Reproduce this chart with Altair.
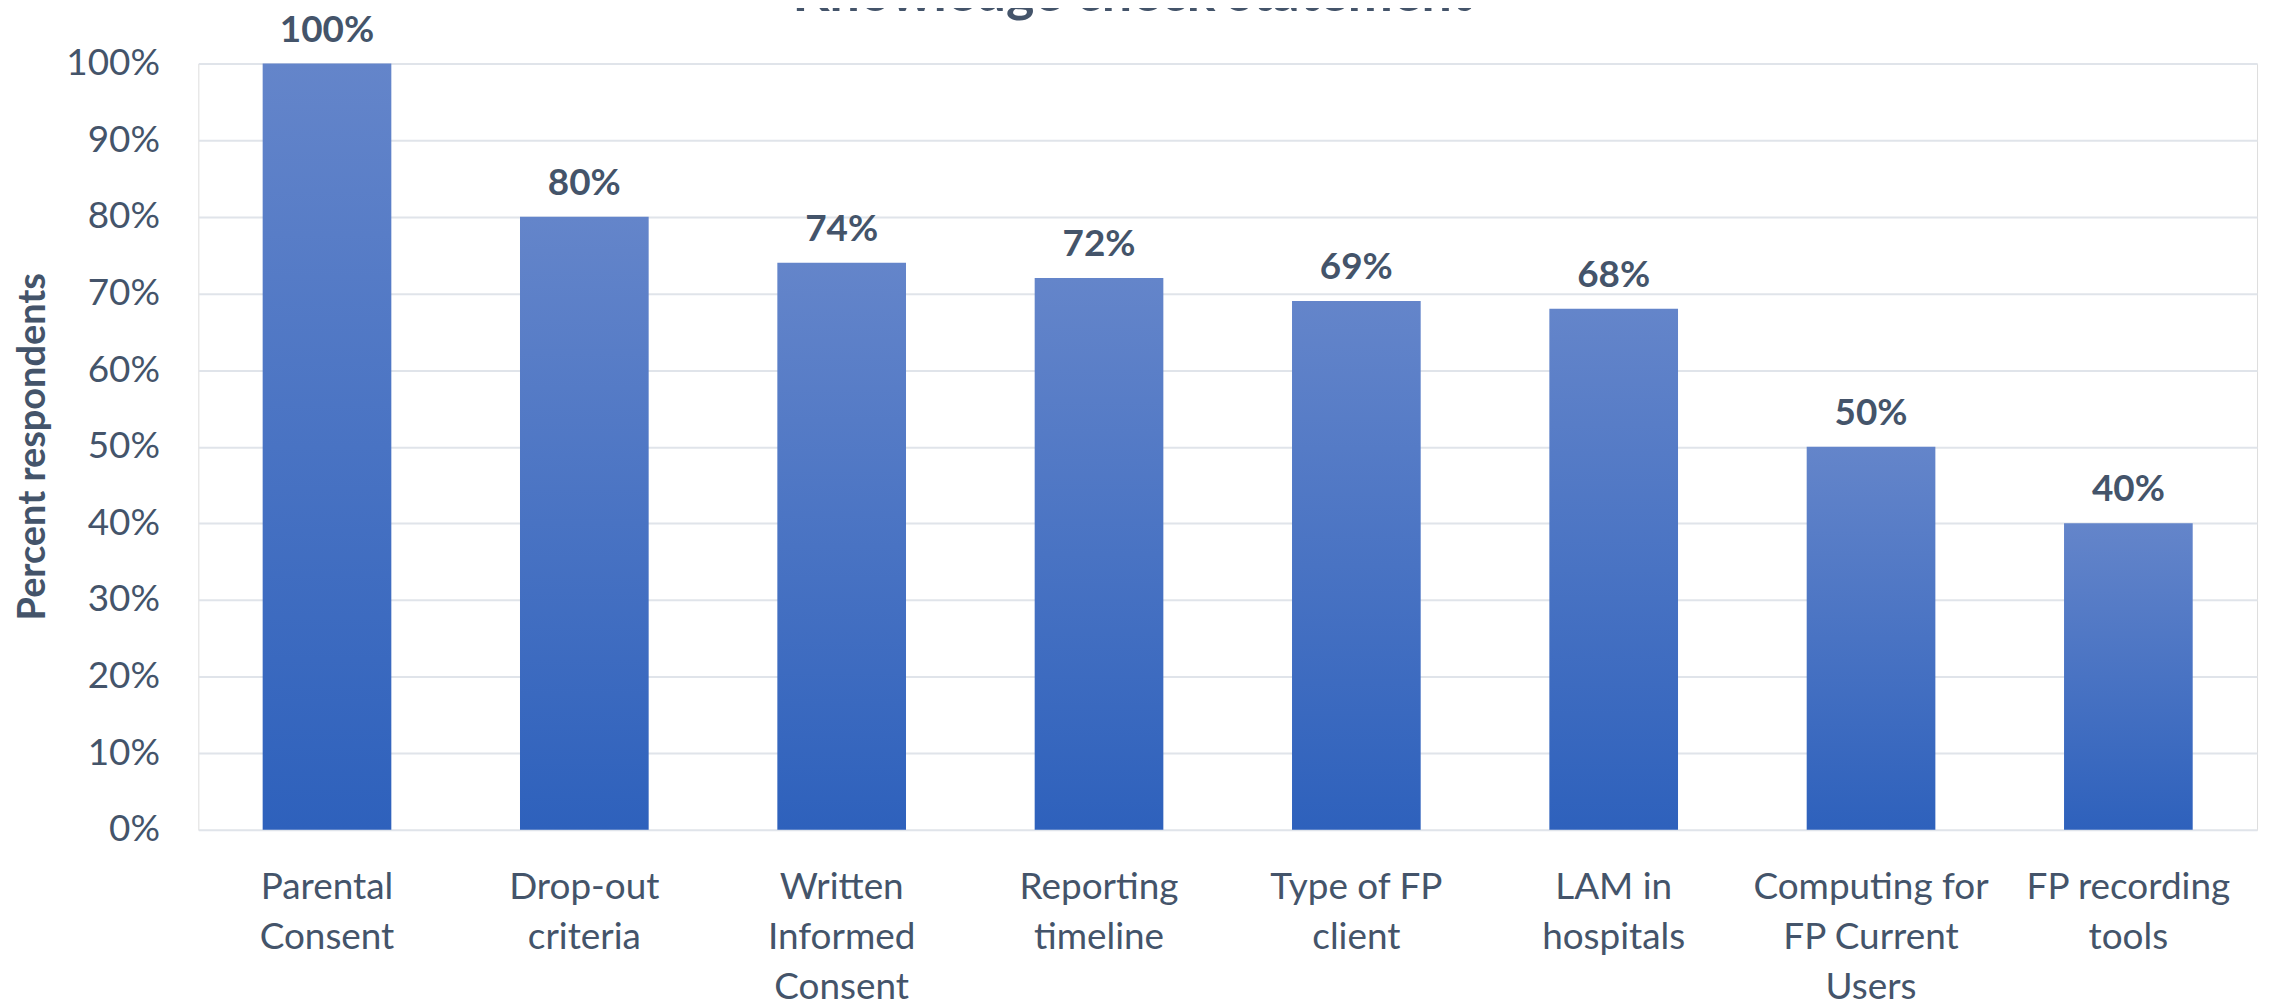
import altair as alt
import pandas as pd

categories = [
    "Parental\nConsent",
    "Drop-out\ncriteria",
    "Written\nInformed\nConsent",
    "Reporting\ntimeline",
    "Type of FP\nclient",
    "LAM in\nhospitals",
    "Computing for\nFP Current\nUsers",
    "FP recording\ntools",
]
values = [1.00, 0.80, 0.74, 0.72, 0.69, 0.68, 0.50, 0.40]
labels = ["100%", "80%", "74%", "72%", "69%", "68%", "50%", "40%"]
title_text = "Knowledge check statement"
y_title = "Percent respondents"

TEXT = "#44546A"
FONT = "Lato"

df = pd.DataFrame({"cat": categories, "val": values, "lab": labels})

x_enc = alt.X(
    "cat:N",
    sort=categories,
    scale=alt.Scale(paddingInner=0.5, paddingOuter=0.25),
    axis=alt.Axis(
        title=None,
        labelAngle=0,
        labelFont=FONT,
        labelFontSize=37,
        labelColor=TEXT,
        labelLineHeight=50,
        labelBaseline="alphabetic",
        labelPadding=69,
        labelLimit=0,
        labelOverlap=False,
        ticks=False,
        tickSize=0,
        domain=False,
        grid=False,
        labelExpr="split(datum.label, '\\n')",
    ),
)

y_enc = alt.Y(
    "val:Q",
    scale=alt.Scale(domain=[0, 1], nice=False),
    axis=alt.Axis(
        title=y_title,
        format="%",
        values=[i / 10 for i in range(11)],
        labelFont=FONT,
        labelFontSize=37,
        labelColor=TEXT,
        labelPadding=39,
        ticks=False,
        tickSize=0,
        domain=False,
        grid=True,
        gridColor="#E0E4EA",
        gridWidth=2,
        titleFont=FONT,
        titleFontSize=38,
        titleFontWeight="bold",
        titleColor=TEXT,
        titleAngle=-90,
        titleBaseline="alphabetic",
        titleAlign="center",
        titleX=-154,
        titleY=384,
        titleLimit=0,
    ),
)

gradient = {
    "gradient": "linear",
    "x1": 0, "y1": 0, "x2": 0, "y2": 1,
    "stops": [
        {"offset": 0, "color": "#6485CA"},
        {"offset": 1, "color": "#2E61BC"},
    ],
}

base = alt.Chart(df)
bars = base.mark_bar(color=gradient).encode(x=x_enc, y=y_enc)
texts = base.mark_text(
    font=FONT, fontSize=37, fontWeight="bold", color=TEXT,
    baseline="alphabetic", dy=-22,
).encode(x=alt.X("cat:N", sort=categories), y="val:Q", text="lab:N")

title = alt.Chart(pd.DataFrame({"t": [title_text]})).mark_text(
    font=FONT, fontSize=54, fontWeight="bold", color=TEXT,
    baseline="alphabetic", align="center",
).encode(text="t:N", x=alt.value(937), y=alt.value(-53))

chart = alt.layer(bars, texts, title).properties(
    width=2066,
    height=769,
    autosize=alt.AutoSizeParams(type="none"),
    padding={"left": 191, "top": 54, "right": 10, "bottom": 170},
).configure_view(stroke=None).configure(background="white")

chart.save("out.html", embed_options={"renderer": "svg", "actions": False})
